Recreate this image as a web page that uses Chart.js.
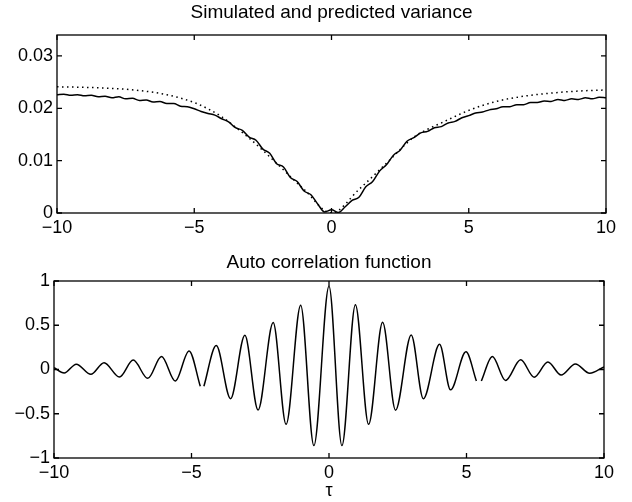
<!DOCTYPE html>
<html>
<head>
<meta charset="utf-8">
<script src="https://cdn.jsdelivr.net/npm/chart.js@4.4.1/dist/chart.umd.min.js"></script>
<style>
  body { margin: 0; background: #fff; }
  canvas { position: absolute; left: 0; }
  #varChart { top: 0; }
  #acfChart { top: 250px; }
</style>
</head>
<body>
<canvas id="varChart" width="632" height="250"></canvas>
<canvas id="acfChart" width="632" height="252"></canvas>
<script>
// simulated variance (solid)
const simX = [-10, -9.75, -9.5, -9.25, -9, -8.75, -8.5, -8.25, -8, -7.75, -7.5, -7.25, -7, -6.75, -6.5, -6.25,
  -6, -5.75, -5.5, -5.25, -5, -4.75, -4.5, -4.25, -4, -3.75, -3.5, -3.25, -3, -2.75, -2.5, -2.25,
  -2, -1.75, -1.5, -1.25, -1, -0.75, -0.5, -0.25, 0, 0.25, 0.5, 0.75, 1, 1.25, 1.5, 1.75,
  2, 2.25, 2.5, 2.75, 3, 3.25, 3.5, 3.75, 4, 4.25, 4.5, 4.75, 5, 5.25, 5.5, 5.75,
  6, 6.25, 6.5, 6.75, 7, 7.25, 7.5, 7.75, 8, 8.25, 8.5, 8.75, 9, 9.25, 9.5, 9.75, 10];
const simY = [0.0226, 0.0227, 0.0225, 0.0226, 0.0224, 0.0225, 0.0222, 0.0223, 0.0220, 0.0222, 0.0218, 0.0219, 0.0215, 0.0216, 0.0212, 0.0213,
  0.0209, 0.0209, 0.0204, 0.0203, 0.0199, 0.0194, 0.0190, 0.0187, 0.0180, 0.0174, 0.0163, 0.0158, 0.0145, 0.0139, 0.0122, 0.0114,
  0.0094, 0.0088, 0.0068, 0.0060, 0.0042, 0.0035, 0.0017, 0.0002, 0.0006, 0.0001, 0.0012, 0.0024, 0.0030, 0.0050, 0.0060, 0.0080,
  0.0092, 0.0110, 0.0120, 0.0137, 0.0144, 0.0153, 0.0156, 0.0163, 0.0165, 0.0172, 0.0175, 0.0182, 0.0186, 0.0191, 0.0193, 0.0197,
  0.0199, 0.0203, 0.0203, 0.0207, 0.0207, 0.0211, 0.0211, 0.0214, 0.0213, 0.0217, 0.0215, 0.0218, 0.0217, 0.0220, 0.0218, 0.0221, 0.0220];

// predicted variance (dotted)
const predX = [-10, -9, -8, -7, -6, -5, -4.5, -4, -3.5, -3, -2, -1, 0, 1, 2, 3, 3.5, 4, 5, 6, 7, 8, 9, 10];
const predY = [0.0241, 0.0240, 0.0238, 0.0234, 0.0226, 0.0211, 0.0199, 0.0184, 0.0164, 0.0143, 0.0095, 0.0045, 0,
  0.0045, 0.0095, 0.0145, 0.0160, 0.0172, 0.0196, 0.0213, 0.0223, 0.0229, 0.0233, 0.0235];

// auto correlation: peaks and troughs, null = break in the line
const acfX = [-10, -9.63, -9.19, -8.66, -8.18, -7.62, -7.12, -6.59, -6.09, -5.59, -5.09, -4.68, -4.62, -4.55,
  -4.10, -3.58, -3.06, -2.58, -2.03, -1.56, -1.03, -0.55, 0, 0.47, 0.96, 1.44, 1.95, 2.42, 2.99, 3.43,
  4.02, 4.42, 4.98, 5.36, 5.45, 5.54, 5.94, 6.42, 6.97, 7.46, 7.96, 8.44, 8.96, 9.48, 10];
const acfY = [0.02, -0.04, 0.06, -0.055, 0.076, -0.085, 0.106, -0.10, 0.147, -0.13, 0.21, -0.19, null, -0.19,
  0.27, -0.33, 0.386, -0.457, 0.53, -0.62, 0.727, -0.86, 0.94, -0.86, 0.733, -0.62, 0.533, -0.46, 0.39, -0.33,
  0.284, -0.23, 0.20, -0.13, null, -0.13, 0.147, -0.124, 0.109, -0.087, 0.085, -0.062, 0.062, -0.043, 0.03];

const xTicks = [-10, -5, 0, 5, 10];
const xTickLabels = ['\u221210', '\u22125', '0', '5', '10'];
const varTicks = [0, 0.01, 0.02, 0.03];
const varTickLabels = ['0', '0.01', '0.02', '0.03'];
const acfTicks = [-1, -0.5, 0, 0.5, 1];
const acfTickLabels = ['\u22121', '\u22120.5', '0', '0.5', '1'];

const family = "'Liberation Sans', Arial, Helvetica, sans-serif";
const tickFont = { family: family, size: 18, weight: 'normal' };
const titleFont = { family: family, size: 19, weight: 'normal' };

// matlab style box with inward ticks on all sides
const boxTicks = {
    id: 'boxTicks',
    afterDraw(chart) {
        const { ctx, chartArea: a, scales: { x, y } } = chart;
        ctx.save();
        ctx.strokeStyle = '#000';
        ctx.lineWidth = 1.3;
        ctx.strokeRect(a.left, a.top, a.right - a.left, a.bottom - a.top);
        ctx.beginPath();
        x.ticks.forEach(t => {
            const px = x.getPixelForValue(t.value);
            ctx.moveTo(px, a.bottom); ctx.lineTo(px, a.bottom - 5);
            ctx.moveTo(px, a.top); ctx.lineTo(px, a.top + 5);
        });
        y.ticks.forEach(t => {
            const py = y.getPixelForValue(t.value);
            ctx.moveTo(a.left, py); ctx.lineTo(a.left + 5, py);
            ctx.moveTo(a.right, py); ctx.lineTo(a.right - 5, py);
        });
        ctx.stroke();
        ctx.restore();
    }
};

function xScale(height, withTitle) {
    return {
        type: 'linear', min: -10, max: 10,
        grid: { display: false, drawTicks: false }, border: { display: false },
        afterBuildTicks: s => { s.ticks = xTicks.map(v => ({ value: v })); },
        afterFit: s => { s.height = height; },
        ticks: { color: '#000', font: tickFont, padding: 4, maxRotation: 0, autoSkip: false,
            callback: (v, i) => xTickLabels[i] },
        title: { display: withTitle, text: '\u03c4', color: '#000', font: tickFont, padding: { top: 0, bottom: 0 } }
    };
}

function yScale(min, max, ticks, labels, width) {
    return {
        min: min, max: max,
        grid: { display: false, drawTicks: false }, border: { display: false },
        afterBuildTicks: s => { s.ticks = ticks.map(v => ({ value: v })); },
        afterFit: s => { s.width = width; },
        ticks: { color: '#000', font: tickFont, padding: 4, autoSkip: false,
            callback: (v, i) => labels[i] }
    };
}

new Chart('varChart', {
    type: 'line',
    data: {
        datasets: [{
            label: 'Simulated',
            data: simX.map((x, i) => ({ x: x, y: simY[i] })),
            borderColor: '#000', borderWidth: 1.5, pointRadius: 0,
            cubicInterpolationMode: 'monotone'
        }, {
            label: 'Predicted',
            data: predX.map((x, i) => ({ x: x, y: predY[i] })),
            borderColor: '#000', borderWidth: 1.5, borderDash: [1.5, 3.5], pointRadius: 0,
            cubicInterpolationMode: 'monotone'
        }]
    },
    options: {
        responsive: false,
        animation: false,
        layout: { padding: { left: 0, right: 26, top: 0, bottom: 0 } },
        plugins: {
            legend: { display: false },
            tooltip: { enabled: false },
            title: { display: true, fullSize: false, text: 'Simulated and predicted variance', color: '#000',
                font: titleFont, padding: { top: 1.5, bottom: 10.7 } }
        },
        scales: {
            x: xScale(37, false),
            y: yScale(0, 0.034, varTicks, varTickLabels, 57)
        }
    },
    plugins: [boxTicks]
});

new Chart('acfChart', {
    type: 'line',
    data: {
        datasets: [{
            label: 'Auto correlation',
            data: acfX.map((x, i) => ({ x: x, y: acfY[i] })),
            borderColor: '#000', borderWidth: 1.5, pointRadius: 0,
            cubicInterpolationMode: 'monotone', spanGaps: false
        }]
    },
    options: {
        responsive: false,
        animation: false,
        layout: { padding: { left: 0, right: 28, top: 0, bottom: 0 } },
        plugins: {
            legend: { display: false },
            tooltip: { enabled: false },
            title: { display: true, fullSize: false, text: 'Auto correlation function', color: '#000',
                font: titleFont, padding: { top: 1.5, bottom: 6.7 } }
        },
        scales: {
            x: xScale(44, true),
            y: yScale(-1, 1, acfTicks, acfTickLabels, 54)
        }
    },
    plugins: [boxTicks]
});
</script>
</body>
</html>
